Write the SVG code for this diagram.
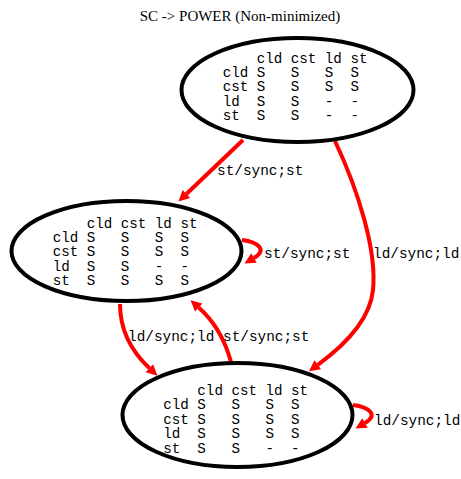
<svg xmlns="http://www.w3.org/2000/svg" width="461" height="479" viewBox="0 0 461 479">
  <style>
    .state { fill: #ffffff; stroke: #000000; stroke-width: 4; }
    .tbl { font-family: "Liberation Mono", "Courier New", monospace; font-size: 14.2px; fill: #000000; white-space: pre; }
    .lbl { font-family: "Liberation Mono", "Courier New", monospace; font-size: 14.4px; fill: #000000; }
    .title { font-family: "Liberation Serif", "Times New Roman", serif; font-size: 15px; fill: #000000; }
    .edge { fill: none; stroke: #ff0000; stroke-width: 4; marker-end: url(#arrow); }
  </style>
  <defs>
    <marker id="arrow" viewBox="0 0 10 10" refX="0" refY="5" markerUnits="userSpaceOnUse" markerWidth="13" markerHeight="11" orient="auto">
      <path d="M0,0 L10,5 L0,10 z" fill="#ff0000"/>
    </marker>
  </defs>

  <rect width="461" height="479" fill="#ffffff"/>
  <text class="title" x="240" y="21" text-anchor="middle">SC -&gt; POWER (Non-minimized)</text>

  <g id="edges">
    <path class="edge" d="M243,140 L186.4,194"/>
    <path class="edge" d="M335,141 C358,190 377,250 373,290 C370,320 345,345 317.8,364.8"/>
    <path class="edge" d="M242,240 C258,242 268,250 254,258"/>
    <path class="edge" d="M120,304 C120,330 130,350 149.4,368.2"/>
    <path class="edge" d="M231,362 C225,340 215,322 198.7,307.5"/>
    <path class="edge" d="M353,405 C369,407 379,415 365,423"/>
    <text class="lbl" x="217" y="175">st/sync;st</text>
    <text class="lbl" x="373" y="258">ld/sync;ld</text>
    <text class="lbl" x="264" y="258">st/sync;st</text>
    <text class="lbl" x="128" y="341">ld/sync;ld</text>
    <text class="lbl" x="223" y="341">st/sync;st</text>
    <text class="lbl" x="374" y="425">ld/sync;ld</text>
  </g>

  <g id="node-top">
    <ellipse class="state" cx="297.5" cy="90" rx="116" ry="52"/>
    <text class="tbl" x="222.7" y="62.6">    cld cst ld st</text>
    <text class="tbl" x="222.7" y="77">cld S   S   S  S</text>
    <text class="tbl" x="222.7" y="91.4">cst S   S   S  S</text>
    <text class="tbl" x="222.7" y="105.8">ld  S   S   -  -</text>
    <text class="tbl" x="222.7" y="120.2">st  S   S   -  -</text>
  </g>

  <g id="node-middle">
    <ellipse class="state" cx="126.5" cy="251" rx="115" ry="50"/>
    <text class="tbl" x="52.7" y="227.6">    cld cst ld st</text>
    <text class="tbl" x="52.7" y="242">cld S   S   S  S</text>
    <text class="tbl" x="52.7" y="256.4">cst S   S   S  S</text>
    <text class="tbl" x="52.7" y="270.8">ld  S   S   -  -</text>
    <text class="tbl" x="52.7" y="285.2">st  S   S   S  S</text>
  </g>

  <g id="node-bottom">
    <ellipse class="state" cx="237.5" cy="415" rx="115" ry="52"/>
    <text class="tbl" x="163.3" y="395">    cld cst ld st</text>
    <text class="tbl" x="163.3" y="409.4">cld S   S   S  S</text>
    <text class="tbl" x="163.3" y="423.8">cst S   S   S  S</text>
    <text class="tbl" x="163.3" y="438.2">ld  S   S   S  S</text>
    <text class="tbl" x="163.3" y="452.6">st  S   S   -  -</text>
  </g>
</svg>
